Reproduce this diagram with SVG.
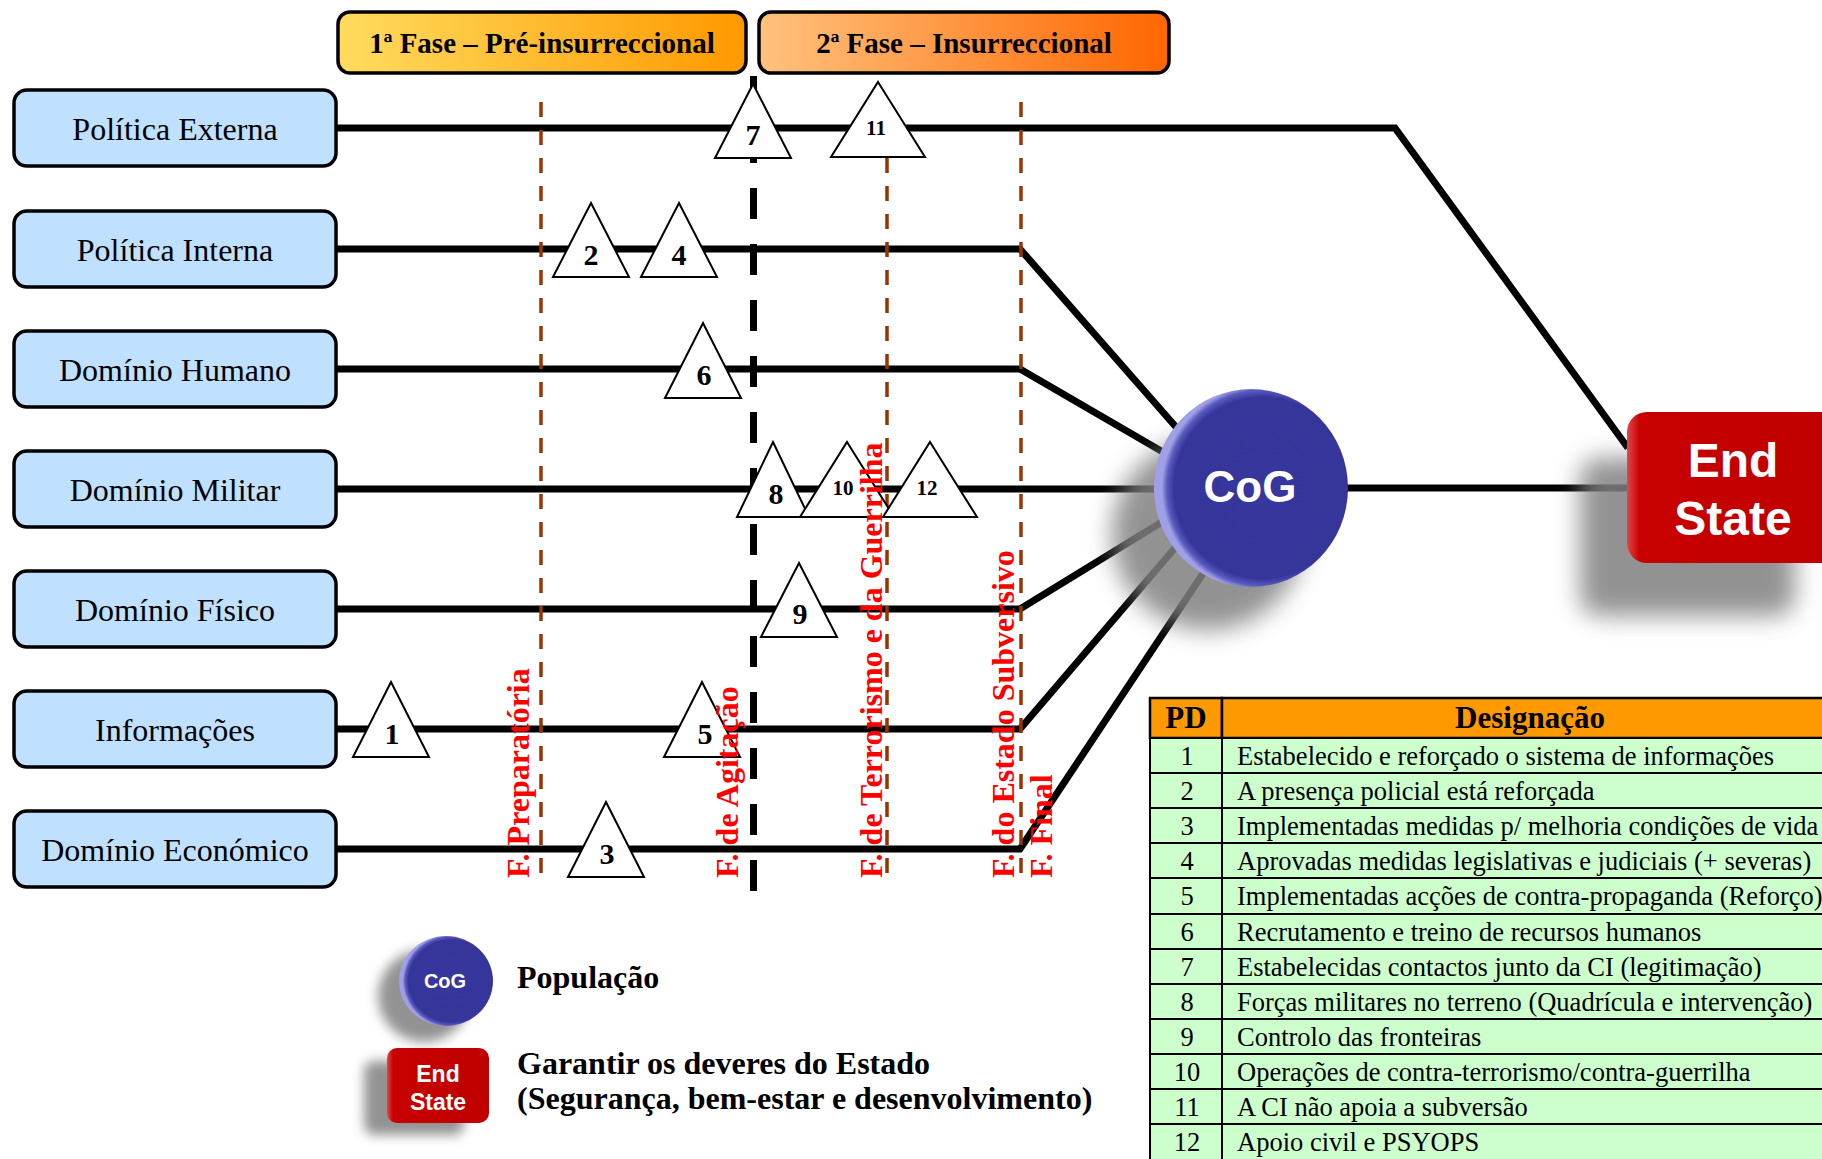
<svg xmlns="http://www.w3.org/2000/svg" width="1822" height="1159" viewBox="0 0 1822 1159">
<style>
.box{fill:#C0E0FF;stroke:#000;stroke-width:3.5}
.boxt{font-family:"Liberation Serif",serif;font-size:32px;fill:#000;text-anchor:middle}
.ln{fill:none;stroke:#000;stroke-width:7;stroke-linejoin:miter}
.vb{fill:none;stroke:#993300;stroke-width:3.5;stroke-dasharray:15 13}
.tri{fill:#fff;stroke:#000;stroke-width:2}
.big{font-family:"Liberation Serif",serif;font-weight:bold;font-size:30px;text-anchor:middle;fill:#000}
.sm{font-family:"Liberation Serif",serif;font-weight:bold;font-size:21px;text-anchor:middle;fill:#000}
.red{font-family:"Liberation Serif",serif;font-weight:bold;font-size:32px;fill:#FF0000}
.ph{font-family:"Liberation Serif",serif;font-weight:bold;font-size:29px;text-anchor:middle;fill:#000}
.wt{font-family:"Liberation Sans",Arial,sans-serif;font-weight:bold;fill:#fff;text-anchor:middle}
.lg{font-family:"Liberation Serif",serif;font-weight:bold;font-size:32px;fill:#000}
.cell{fill:#CCFFCC;stroke:#000;stroke-width:2}
.hd{fill:#FF9900;stroke:#000;stroke-width:2.5}
.tt{font-family:"Liberation Serif",serif;font-size:26.5px;fill:#000}
.tn{font-family:"Liberation Serif",serif;font-size:26.5px;fill:#000;text-anchor:middle}
.th{font-family:"Liberation Serif",serif;font-weight:bold;font-size:31px;fill:#000;text-anchor:middle}
.shd{fill:#808080;opacity:0.85}
</style>
<defs>
<linearGradient id="g1" x1="0" y1="0" x2="1" y2="0">
<stop offset="0" stop-color="#FFDC5E"/><stop offset="1" stop-color="#FF9900"/>
</linearGradient>
<linearGradient id="g2" x1="0" y1="0" x2="1" y2="0">
<stop offset="0" stop-color="#FFC27E"/><stop offset="1" stop-color="#FF6600"/>
</linearGradient>
<radialGradient id="cog" cx="0.56" cy="0.5" r="0.52">
<stop offset="0" stop-color="#36369C"/><stop offset="0.88" stop-color="#35359A"/><stop offset="0.95" stop-color="#5A5ABE"/><stop offset="1" stop-color="#A0A0E8"/>
</radialGradient>
<linearGradient id="es" x1="0" y1="0" x2="1" y2="0">
<stop offset="0" stop-color="#E04848"/><stop offset="0.06" stop-color="#C80000"/><stop offset="1" stop-color="#C00000"/>
</linearGradient>
<filter id="blur" x="-50%" y="-50%" width="200%" height="200%"><feGaussianBlur stdDeviation="12"/></filter>
<filter id="blur2" x="-50%" y="-50%" width="200%" height="200%"><feGaussianBlur stdDeviation="6"/></filter>
</defs>
<rect width="1822" height="1159" fill="#fff"/>

<g id="phase1">
<rect x="338" y="12" width="408" height="61" rx="12" fill="url(#g1)" stroke="#000" stroke-width="3.5"/>
<text class="ph" x="542" y="53">1ª Fase – Pré-insurreccional</text>
</g>
<g id="phase2">
<rect x="759" y="12" width="410" height="61" rx="12" fill="url(#g2)" stroke="#000" stroke-width="3.5"/>
<text class="ph" x="964" y="53">2ª Fase – Insurreccional</text>
</g>

<g id="connectors">
<polyline class="ln" points="336,128 1395,128 1628,448"/>
<polyline class="ln" points="336,249 1020,249 1190,443"/>
<polyline class="ln" points="336,369 1020,369 1175,459"/>
<polyline class="ln" points="336,489 1251,489"/>
<polyline class="ln" points="336,609 1020,609 1175,514"/>
<polyline class="ln" points="336,729 1020,729 1186,535"/>
<polyline class="ln" points="336,849 1020,849 1212,560"/>
<line class="ln" x1="1251" y1="488" x2="1630" y2="488"/>
</g>

<g id="phase-divider">
<line x1="753.5" y1="76" x2="753.5" y2="892" stroke="#000" stroke-width="7" stroke-dasharray="31 25"/>
</g>
<g id="stage-lines">
<line class="vb" x1="541" y1="102" x2="541" y2="873"/>
<line class="vb" x1="887" y1="102" x2="887" y2="873"/>
<line class="vb" x1="1021" y1="102" x2="1021" y2="873"/>
</g>

<g id="pd1"><path class="tri" d="M391,682 L429,757 L353,757 Z"/><text class="big" x="392" y="744">1</text></g>
<g id="pd2"><path class="tri" d="M591,203 L629,277 L553,277 Z"/><text class="big" x="591" y="265">2</text></g>
<g id="pd3"><path class="tri" d="M606,802 L644,877 L568,877 Z"/><text class="big" x="607" y="864">3</text></g>
<g id="pd4"><path class="tri" d="M679,203 L717,277 L641,277 Z"/><text class="big" x="679" y="265">4</text></g>
<g id="pd5"><path class="tri" d="M702,682 L740,757 L664,757 Z"/><text class="big" x="705" y="744">5</text></g>
<g id="pd6"><path class="tri" d="M703,323 L741,398 L665,398 Z"/><text class="big" x="704" y="385">6</text></g>
<g id="pd7"><path class="tri" d="M753,84 L791,158 L715,158 Z"/><text class="big" x="753" y="145">7</text></g>
<g id="pd8"><path class="tri" d="M773,442 L809,517 L737,517 Z"/><text class="big" x="776" y="504">8</text></g>
<g id="pd9"><path class="tri" d="M799,563 L837,637 L761,637 Z"/><text class="big" x="800" y="624">9</text></g>
<g id="pd10"><path class="tri" d="M847,442 L894,517 L800,517 Z"/><text class="sm" x="843" y="495">10</text></g>
<g id="pd11"><path class="tri" d="M878,82 L925,157 L831,157 Z"/><text class="sm" x="876" y="135">11</text></g>
<g id="pd12"><path class="tri" d="M930,442 L977,517 L883,517 Z"/><text class="sm" x="927" y="495">12</text></g>

<g id="stage-labels">
<text class="red" transform="translate(529,878) rotate(-90)">F. Preparatória</text>
<text class="red" transform="translate(738,878) rotate(-90)">F. de Agitação</text>
<text class="red" transform="translate(882,878) rotate(-90)">F. de Terrorismo e da Guerrilha</text>
<text class="red" transform="translate(1014,878) rotate(-90)">F. do Estado Subversivo</text>
<text class="red" transform="translate(1052,878) rotate(-90)">F. Final</text>
</g>

<g id="n-politica-externa"><rect class="box" x="14" y="90" width="322" height="76" rx="13"/><text class="boxt" x="175" y="140">Política Externa</text></g>
<g id="n-politica-interna"><rect class="box" x="14" y="211" width="322" height="76" rx="13"/><text class="boxt" x="175" y="261">Política Interna</text></g>
<g id="n-dominio-humano"><rect class="box" x="14" y="331" width="322" height="76" rx="13"/><text class="boxt" x="175" y="381">Domínio Humano</text></g>
<g id="n-dominio-militar"><rect class="box" x="14" y="451" width="322" height="76" rx="13"/><text class="boxt" x="175" y="501">Domínio Militar</text></g>
<g id="n-dominio-fisico"><rect class="box" x="14" y="571" width="322" height="76" rx="13"/><text class="boxt" x="175" y="621">Domínio Físico</text></g>
<g id="n-informacoes"><rect class="box" x="14" y="691" width="322" height="76" rx="13"/><text class="boxt" x="175" y="741">Informações</text></g>
<g id="n-dominio-economico"><rect class="box" x="14" y="811" width="322" height="76" rx="13"/><text class="boxt" x="175" y="861">Domínio Económico</text></g>

<g id="n-cog">
<circle class="shd" cx="1208" cy="534" r="96" filter="url(#blur)"/>
<ellipse cx="1251" cy="488" rx="97" ry="99" fill="url(#cog)"/>
<text class="wt" x="1250" y="502" font-size="44">CoG</text>
</g>
<g id="n-end-state">
<rect class="shd" x="1580" y="458" width="215" height="158" rx="20" filter="url(#blur)"/>
<rect x="1627" y="412" width="215" height="151" rx="20" fill="url(#es)"/>
<text class="wt" x="1733" y="477" font-size="48">End</text>
<text class="wt" x="1733" y="535" font-size="48">State</text>
</g>

<g id="legend-cog">
<circle class="shd" cx="424" cy="996" r="46" filter="url(#blur2)"/>
<ellipse cx="446" cy="981" rx="47" ry="45" fill="url(#cog)"/>
<text class="wt" x="445" y="988" font-size="20">CoG</text>
<text class="lg" x="517" y="988">População</text>
</g>
<g id="legend-end-state">
<rect class="shd" x="364" y="1061" width="100" height="74" rx="10" filter="url(#blur2)"/>
<rect x="387" y="1048" width="102" height="75" rx="10" fill="url(#es)"/>
<text class="wt" x="438" y="1082" font-size="23">End</text>
<text class="wt" x="438" y="1110" font-size="23">State</text>
<text class="lg" x="517" y="1074">Garantir os deveres do Estado</text>
<text class="lg" x="517" y="1109">(Segurança, bem-estar e desenvolvimento)</text>
</g>

<g id="table">
<rect class="hd" x="1150" y="698" width="72" height="40"/>
<rect class="hd" x="1222" y="698" width="620" height="40"/>
<text class="th" x="1186" y="728">PD</text>
<text class="th" x="1530" y="728">Designação</text>
<g>
<rect class="cell" x="1150" y="738" width="72" height="35"/><rect class="cell" x="1222" y="738" width="620" height="35"/>
<rect class="cell" x="1150" y="773" width="72" height="35"/><rect class="cell" x="1222" y="773" width="620" height="35"/>
<rect class="cell" x="1150" y="808" width="72" height="35"/><rect class="cell" x="1222" y="808" width="620" height="35"/>
<rect class="cell" x="1150" y="843" width="72" height="35"/><rect class="cell" x="1222" y="843" width="620" height="35"/>
<rect class="cell" x="1150" y="878" width="72" height="36"/><rect class="cell" x="1222" y="878" width="620" height="36"/>
<rect class="cell" x="1150" y="914" width="72" height="35"/><rect class="cell" x="1222" y="914" width="620" height="35"/>
<rect class="cell" x="1150" y="949" width="72" height="35"/><rect class="cell" x="1222" y="949" width="620" height="35"/>
<rect class="cell" x="1150" y="984" width="72" height="35"/><rect class="cell" x="1222" y="984" width="620" height="35"/>
<rect class="cell" x="1150" y="1019" width="72" height="35"/><rect class="cell" x="1222" y="1019" width="620" height="35"/>
<rect class="cell" x="1150" y="1054" width="72" height="35"/><rect class="cell" x="1222" y="1054" width="620" height="35"/>
<rect class="cell" x="1150" y="1089" width="72" height="35"/><rect class="cell" x="1222" y="1089" width="620" height="35"/>
<rect class="cell" x="1150" y="1124" width="72" height="40"/><rect class="cell" x="1222" y="1124" width="620" height="40"/>
</g>
<g>
<text class="tn" x="1187" y="765">1</text><text class="tt" x="1237" y="765">Estabelecido e reforçado o sistema de informações</text>
<text class="tn" x="1187" y="800">2</text><text class="tt" x="1237" y="800">A presença policial está reforçada</text>
<text class="tn" x="1187" y="835">3</text><text class="tt" x="1237" y="835">Implementadas medidas p/ melhoria condições de vida</text>
<text class="tn" x="1187" y="870">4</text><text class="tt" x="1237" y="870">Aprovadas medidas legislativas e judiciais (+ severas)</text>
<text class="tn" x="1187" y="905">5</text><text class="tt" x="1237" y="905">Implementadas acções de contra-propaganda (Reforço)</text>
<text class="tn" x="1187" y="941">6</text><text class="tt" x="1237" y="941">Recrutamento e treino de recursos humanos</text>
<text class="tn" x="1187" y="976">7</text><text class="tt" x="1237" y="976">Estabelecidas contactos junto da CI (legitimação)</text>
<text class="tn" x="1187" y="1011">8</text><text class="tt" x="1237" y="1011">Forças militares no terreno (Quadrícula e intervenção)</text>
<text class="tn" x="1187" y="1046">9</text><text class="tt" x="1237" y="1046">Controlo das fronteiras</text>
<text class="tn" x="1187" y="1081">10</text><text class="tt" x="1237" y="1081">Operações de contra-terrorismo/contra-guerrilha</text>
<text class="tn" x="1187" y="1116">11</text><text class="tt" x="1237" y="1116">A CI não apoia a subversão</text>
<text class="tn" x="1187" y="1151">12</text><text class="tt" x="1237" y="1151">Apoio civil e PSYOPS</text>
</g>
</g>
</svg>
